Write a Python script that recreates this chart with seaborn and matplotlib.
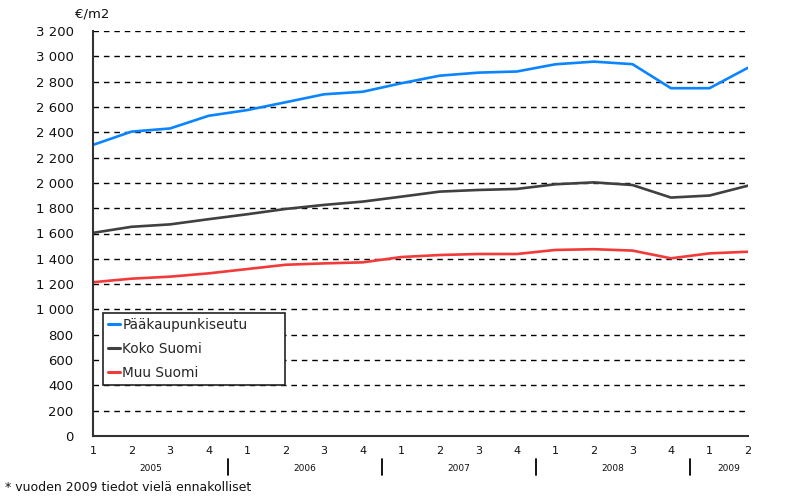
import matplotlib
matplotlib.use("Agg")
import matplotlib.pyplot as plt
import matplotlib.transforms as mtransforms
import pandas as pd
import seaborn as sns

# Quarterly prices, 2005 Q1 - 2009 Q2
quarters = ["1", "2", "3", "4"] * 4 + ["1", "2"]
years = ["2005", "2006", "2007", "2008", "2009"]
paakaupunkiseutu = [2300, 2405, 2430, 2530, 2575, 2637, 2700, 2720, 2787, 2847,
                    2871, 2880, 2937, 2958, 2938, 2748, 2748, 2910]
koko_suomi = [1605, 1653, 1672, 1713, 1752, 1794, 1826, 1852, 1891, 1931,
              1944, 1952, 1989, 2004, 1983, 1884, 1900, 1978]
muu_suomi = [1215, 1243, 1259, 1285, 1319, 1353, 1364, 1372, 1414, 1430,
             1438, 1438, 1470, 1476, 1465, 1404, 1443, 1456]
series = ["Pääkaupunkiseutu", "Koko Suomi", "Muu Suomi"]
colors = ["#0A84FF", "#404040", "#F23A3A"]

idx = list(range(len(quarters)))
df = pd.concat([
    pd.DataFrame({"q": idx, "price": vals, "area": name})
    for name, vals in zip(series, [paakaupunkiseutu, koko_suomi, muu_suomi])
])

sns.set_theme(style="white")
plt.rcParams["font.family"] = ["DejaVu Sans"]

fig = plt.figure(figsize=(7.86, 5), dpi=100)
ax = fig.add_axes([0.1183, 0.128, 0.8334, 0.81])

sns.lineplot(data=df, x="q", y="price", hue="area", palette=colors,
             hue_order=series, linewidth=1.9, ax=ax)

ax.set_xlim(0, len(quarters) - 1)
ax.set_ylim(0, 3200)
ax.set_yticks(range(0, 3201, 200))
ax.set_yticklabels([f"{v:,}".replace(",", " ") for v in range(0, 3201, 200)])
ax.set_xticks(idx)
ax.set_xticklabels(quarters)
ax.set_xlabel("")
ax.set_ylabel("")
ax.tick_params(axis="y", length=0, pad=14, labelsize=9.5, colors="#111111")
ax.tick_params(axis="x", length=0, pad=7, labelsize=8, colors="#111111")

ax.yaxis.grid(True, color="black", linestyle=(0, (4, 3.5)), linewidth=1)
ax.set_axisbelow(True)
for s in ["top", "right"]:
    ax.spines[s].set_visible(False)
for s in ["left", "bottom"]:
    ax.spines[s].set_color("#333333")
    ax.spines[s].set_linewidth(1.5)

# year labels and separators under the quarter ticks
trans = mtransforms.blended_transform_factory(ax.transData, ax.transAxes)
year_pos = [1.5, 5.5, 9.5, 13.5, 16.5]
for yr, xp in zip(years, year_pos):
    ax.text(xp, -0.08, yr, transform=trans, ha="center", va="center",
            fontsize=6.5, color="#111111")
for xp in [3.5, 7.5, 11.5, 15.5]:
    ax.plot([xp, xp], [-0.058, -0.097], transform=trans, color="black",
            linewidth=1.3, clip_on=False)

fig.text(0.095, 0.965, "€/m2", fontsize=9.5, color="#111111")
fig.text(0.006, 0.018, "* vuoden 2009 tiedot vielä ennakolliset",
         fontsize=9, color="#111111")

leg = ax.legend(loc="lower left", bbox_to_anchor=(0.015, 0.126, 0.278, 0.18),
                mode="expand", frameon=True, fancybox=False, edgecolor="#222222",
                fontsize=9.8, handlelength=0.9, handletextpad=0.15,
                labelspacing=0.72, borderpad=0.38, borderaxespad=0)
leg.get_frame().set_linewidth(1.2)
leg.get_frame().set_facecolor("white")
leg.get_frame().set_alpha(1)
for h in leg.get_lines():
    h.set_linewidth(2.2)

fig.savefig("out.png", dpi=100, facecolor="white")
